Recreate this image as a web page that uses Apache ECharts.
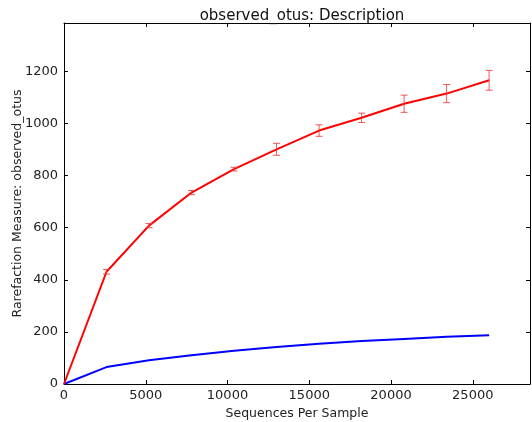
<!DOCTYPE html>
<html>
<head>
<meta charset="utf-8">
<script src="https://cdn.jsdelivr.net/npm/echarts@6/dist/echarts.min.js"></script>
<style>
html,body{margin:0;padding:0;background:#fff;}
#chart{width:532px;height:422px;}
</style>
</head>
<body>
<div id="chart"></div>
<script>
var depths = [0, 2600, 5200, 7800, 10400, 13000, 15600, 18200, 20800, 23400, 26000];
var redMean = [0, 431, 608, 735, 825, 901, 973, 1022, 1076, 1115, 1166];
var redErr = [0, 9, 8, 8, 7, 23, 22, 18, 33, 35, 38];
var blueMean = [0, 65, 91, 110, 128, 142, 155, 165, 173, 181, 187];
var titleText = 'observed_otus: Description';
var xName = 'Sequences Per Sample';
var yName = 'Rarefaction Measure: observed_otus';

var FONT = 'DejaVu Sans';
var redData = depths.map(function (d, i) { return [d, redMean[i]]; });
var blueData = depths.map(function (d, i) { return [d, blueMean[i]]; });
var errData = [];
depths.forEach(function (d, i) { if (redErr[i] > 0) errData.push([d, redMean[i] - redErr[i], redMean[i] + redErr[i]]); });

var plain = function (v) { return String(v); };
var chart = echarts.init(document.getElementById('chart'), null, {renderer: 'canvas'});
var axisCommon = {
  axisLine: {show: true, onZero: false, lineStyle: {color: '#000', width: 1}},
  axisTick: {show: true, inside: true, length: 4, lineStyle: {color: '#000'}},
  splitLine: {show: false}
};
chart.setOption({
  animation: false,
  backgroundColor: '#fff',
  title: {
    text: titleText, left: 297, top: 4, textAlign: 'center',
    textStyle: {fontFamily: FONT, fontSize: 15, fontWeight: 'normal', color: '#111'}
  },
  grid: {left: 64, right: 2, top: 23, bottom: 38, containLabel: false, outerBoundsMode: 'none'},
  xAxis: [
    Object.assign({
      type: 'value', min: 0, max: 28500, interval: 5000, position: 'bottom',
      name: xName, nameLocation: 'middle', nameGap: 22,
      nameTextStyle: {fontFamily: FONT, fontSize: 12.5, color: '#222'},
      axisLabel: {fontFamily: FONT, fontSize: 13, color: '#222', margin: 5, showMaxLabel: false, formatter: plain}
    }, axisCommon),
    Object.assign({
      type: 'value', min: 0, max: 28500, interval: 5000, position: 'top',
      axisLabel: {show: false}
    }, axisCommon)
  ],
  yAxis: [
    Object.assign({
      type: 'value', min: 0, max: 1386, interval: 200, position: 'left',
      name: yName, nameLocation: 'middle', nameGap: 40, nameRotate: 90, nameMoveOverlap: false,
      nameTextStyle: {fontFamily: FONT, fontSize: 12.5, color: '#222'},
      axisLabel: {fontFamily: FONT, fontSize: 13, color: '#222', margin: 6, showMaxLabel: false, formatter: plain}
    }, axisCommon),
    Object.assign({
      type: 'value', min: 0, max: 1386, interval: 200, position: 'right',
      axisLabel: {show: false}
    }, axisCommon)
  ],
  series: [
    {
      type: 'line', data: blueData, xAxisIndex: 0, yAxisIndex: 0,
      symbol: 'none', lineStyle: {color: '#0000ff', width: 2}, z: 3
    },
    {
      type: 'line', data: redData, xAxisIndex: 0, yAxisIndex: 0,
      symbol: 'none', lineStyle: {color: '#ff0000', width: 2}, z: 4
    },
    {
      type: 'custom', xAxisIndex: 0, yAxisIndex: 0, data: errData, z: 5,
      renderItem: function (params, api) {
        var x = api.value(0);
        var lo = api.coord([x, api.value(1)]);
        var hi = api.coord([x, api.value(2)]);
        var hw = 3.5;
        var st = {stroke: 'rgba(235,60,60,0.85)', lineWidth: 1};
        return {
          type: 'group',
          children: [
            {type: 'line', shape: {x1: lo[0], y1: lo[1], x2: hi[0], y2: hi[1]}, style: st},
            {type: 'line', shape: {x1: lo[0] - hw, y1: lo[1], x2: lo[0] + hw, y2: lo[1]}, style: st},
            {type: 'line', shape: {x1: hi[0] - hw, y1: hi[1], x2: hi[0] + hw, y2: hi[1]}, style: st}
          ]
        };
      }
    }
  ]
});
</script>
</body>
</html>
